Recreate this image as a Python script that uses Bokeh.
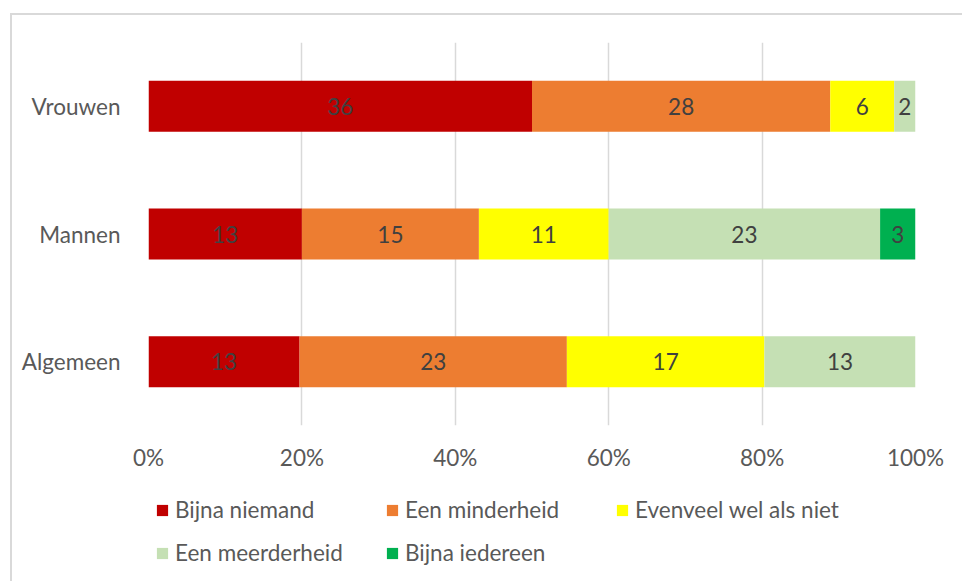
from bokeh.plotting import figure
from bokeh.models import ColumnDataSource, Legend, LegendItem, NumeralTickFormatter, FixedTicker, Range1d, FactorRange
from bokeh.layouts import column
from bokeh.core.properties import value
from bokeh.embed import file_html
from bokeh.resources import INLINE

categories = ["Vrouwen", "Mannen", "Algemeen"]
series_names = ["Bijna niemand", "Een minderheid", "Evenveel wel als niet", "Een meerderheid", "Bijna iedereen"]
bijna_niemand = [36, 13, 13]
een_minderheid = [28, 15, 23]
evenveel = [6, 11, 17]
een_meerderheid = [2, 23, 13]
bijna_iedereen = [0, 3, 0]
colors = ["#C00000", "#ED7D31", "#FFFF00", "#C5E0B4", "#00B050"]
x_ticks = [0, 0.2, 0.4, 0.6, 0.8, 1.0]

series = [bijna_niemand, een_minderheid, evenveel, een_meerderheid, bijna_iedereen]
totals = [sum(s[i] for s in series) for i in range(len(categories))]

FONT = "Lato"
TXT = "#595959"
FS = "22.5px"
W = 950
MBL, MBR = 136, 47

p = figure(width=W, height=460, output_backend="svg", toolbar_location=None,
           y_range=FactorRange(*list(reversed(categories)), range_padding=0),
           x_range=Range1d(0, 1),
           min_border_left=MBL, min_border_right=MBR, min_border_top=27, min_border_bottom=50)
p.outline_line_color = None
p.ygrid.grid_line_color = None
p.xgrid.grid_line_color = "#d9d9d9"
p.xgrid.grid_line_width = 1.5
p.xaxis.ticker = FixedTicker(ticks=x_ticks)
p.xaxis.formatter = NumeralTickFormatter(format="0%")
for ax in (p.xaxis, p.yaxis):
    ax.axis_line_color = None
    ax.major_tick_line_color = None
    ax.minor_tick_line_color = None
    ax.major_label_text_font = FONT
    ax.major_label_text_font_size = FS
    ax.major_label_text_color = TXT
p.xaxis.major_label_standoff = 12
p.yaxis.major_label_standoff = 22

lefts = [0.0] * len(categories)
for name, vals, col in zip(series_names, series, colors):
    fr = [v / t for v, t in zip(vals, totals)]
    right = [l + f for l, f in zip(lefts, fr)]
    src = ColumnDataSource(dict(cat=categories, left=lefts, right=right))
    p.hbar(y="cat", left="left", right="right", height=0.4, fill_color=col, line_color=None, source=src)
    lab_x, lab_y, lab_t = [], [], []
    for c, l, rr, v in zip(categories, lefts, right, vals):
        if v > 0:
            lab_x.append((l + rr) / 2)
            lab_y.append(c)
            lab_t.append(str(v))
    p.text(x=lab_x, y=lab_y, text=lab_t, text_align="center", text_baseline="middle",
           text_font=value(FONT), text_font_size=FS, text_color="#404040")
    lefts = right

# legend figure below the chart (frame aligned with the chart's frame)
p2 = figure(width=W, height=106, output_backend="svg", toolbar_location=None,
            x_range=Range1d(0, 1), y_range=Range1d(0, 1),
            x_axis_location=None, y_axis_location=None,
            min_border_left=MBL, min_border_right=MBR, min_border_top=0, min_border_bottom=0)
p2.outline_line_color = None
p2.xgrid.grid_line_color = None
p2.ygrid.grid_line_color = None
leg_renderers = []
for col in colors:
    leg_renderers.append(p2.hbar(y=[-10], left=[0], right=[0.1], height=0.4, fill_color=col, line_color=None))
items = [LegendItem(label=n, renderers=[r]) for n, r in zip(series_names, leg_renderers)]
legend = Legend(items=items, orientation="horizontal", ncols=3, location=(7, 7),
                label_text_font=FONT, label_text_font_size=FS, label_text_color=TXT,
                glyph_width=14, glyph_height=14, label_standoff=6, spacing=0,
                label_width=210, label_height=43,
                border_line_color=None, background_fill_alpha=0, padding=0, margin=0)
p2.add_layout(legend, "center")

layout = column(p, p2, spacing=0)
layout.margin = (13, 0, 0, 10)
layout.styles = {"border-left": "2px solid #d9d9d9", "border-top": "2px solid #d9d9d9"}

open("out.html", "w").write(file_html(layout, INLINE))
